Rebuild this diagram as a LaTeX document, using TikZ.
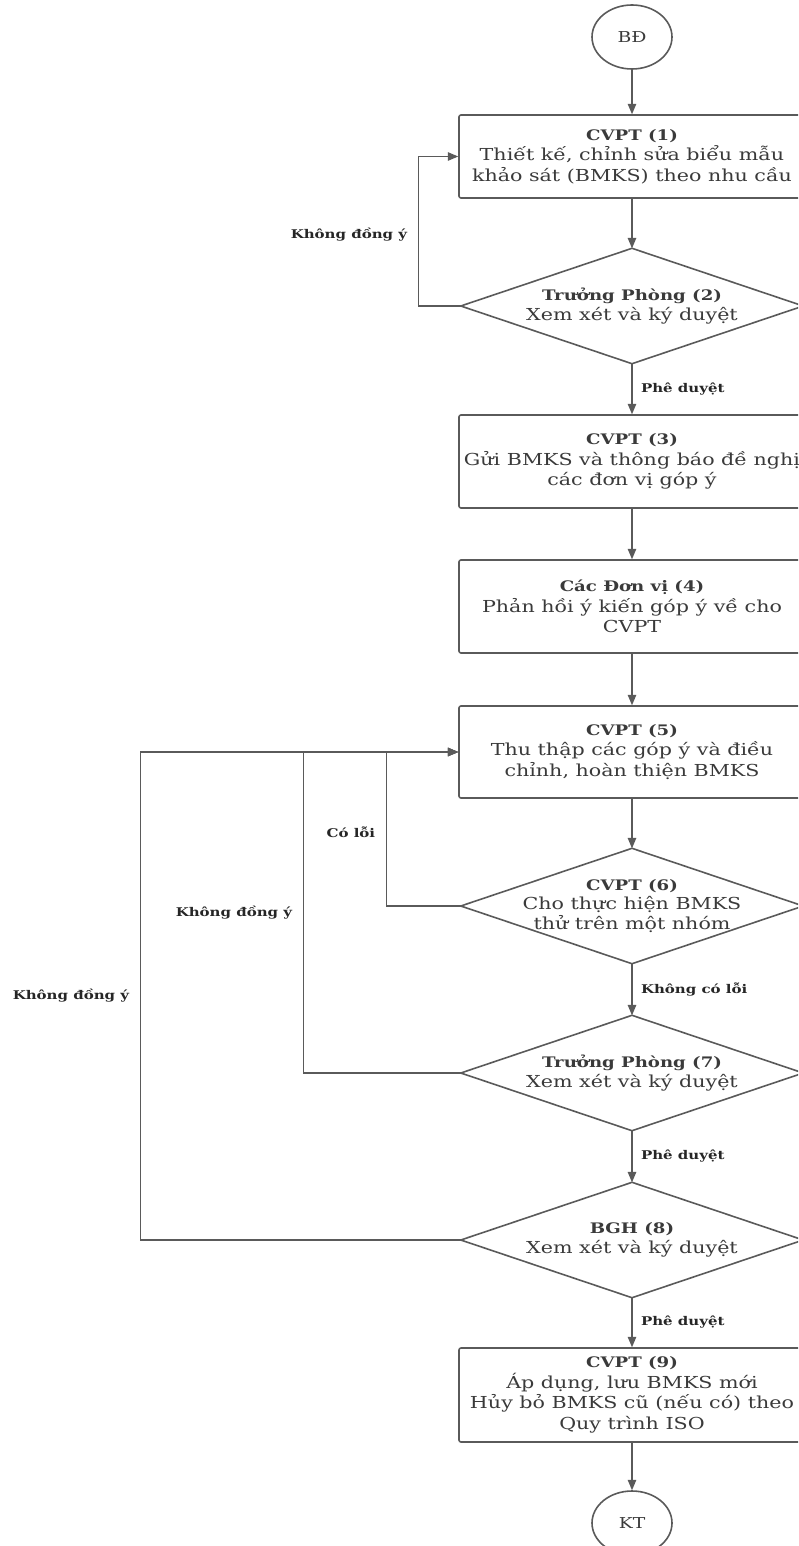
\documentclass[tikz,border=0pt]{standalone}
\usepackage{fontspec}
\setmainfont{DejaVu Serif}[FakeStretch=1.25]
\usetikzlibrary{arrows,shapes.geometric,positioning}
\definecolor{lineclr}{HTML}{5A5A5A}
\definecolor{txtclr}{HTML}{3A3A3A}
\newcommand{\stephead}[1]{{\fontsize{14.5}{20.5}\selectfont\bfseries #1}}
\tikzset{
	box/.style={draw=lineclr, line width=1.6pt, rounded corners=2pt, minimum width=346pt, align=center, text=txtclr, font=\fontsize{16.5}{20.5}\selectfont},
	decision/.style={minimum width=342pt, minimum height=115pt, inner sep=0pt, align=center, text=txtclr, font=\fontsize{16.5}{19.5}\selectfont},
	terminal/.style={ellipse, draw=lineclr, line width=1.6pt, minimum width=80pt, minimum height=64pt, text=txtclr, font=\fontsize{15}{17}\selectfont},
	flow/.style={->, draw=lineclr, line width=1.4pt},
	lbl/.style={text=black!85, font=\fontsize{12}{14}\selectfont\bfseries}
}

\begin{document}
\begin{tikzpicture}[x=1pt,y=-1pt,>=triangle 45]
	\useasboundingbox (0,0) rectangle (798,1546);
	\clip (0,0) rectangle (798,1546);
	
	\node[terminal] (bd) at (632,37) {BĐ};
	\node[box, minimum height=83pt] (cvpt1) at (632,156.5) {\stephead{CVPT (1)}\\Thiết kế, chỉnh sửa biểu mẫu\\khảo sát (BMKS) theo nhu cầu};
	\node[decision] (tp2) at (632,306) {\stephead{Trưởng Phòng (2)}\\Xem xét và ký duyệt};
	\node[box, minimum height=93pt] (cvpt3) at (632,461.5) {\stephead{CVPT (3)}\\Gửi BMKS và thông báo đề nghị\\các đơn vị góp ý};
	\node[box, minimum height=93pt] (dv4) at (632,606.5) {\stephead{Các Đơn vị (4)}\\Phản hồi ý kiến góp ý về cho\\CVPT};
	\node[box, minimum height=92pt] (cvpt5) at (632,752) {\stephead{CVPT (5)}\\Thu thập các góp ý và điều\\chỉnh, hoàn thiện BMKS};
	\node[decision] (cvpt6) at (632,906) {\stephead{CVPT (6)}\\Cho thực hiện BMKS\\thử trên một nhóm};
	\node[decision] (tp7) at (632,1073) {\stephead{Trưởng Phòng (7)}\\Xem xét và ký duyệt};
	\node[decision] (bgh8) at (632,1240) {\stephead{BGH (8)}\\Xem xét và ký duyệt};
	\node[box, minimum height=94pt] (cvpt9) at (632,1395) {\stephead{CVPT (9)}\\Áp dụng, lưu BMKS mới\\Hủy bỏ BMKS cũ (nếu có) theo\\Quy trình ISO};
	\node[terminal] (kt) at (632,1523) {KT};
	
	% diamonds
	\foreach \d in {tp2,cvpt6,tp7,bgh8}
		\draw[lineclr, line width=1.6pt, line join=miter] (\d.north) -- (\d.east) -- (\d.south) -- (\d.west) -- cycle;
	
	\draw[flow] (bd) -- (cvpt1);
	\draw[flow] (cvpt1) -- (tp2);
	\draw[flow] (tp2) -- node[lbl, right=5pt]{Phê duyệt} (cvpt3);
	\draw[flow] (cvpt3) -- (dv4);
	\draw[flow] (dv4) -- (cvpt5);
	\draw[flow] (cvpt5) -- (cvpt6);
	\draw[flow] (cvpt6) -- node[lbl, right=5pt]{Không có lỗi} (tp7);
	\draw[flow] (tp7) -- node[lbl, right=5pt]{Phê duyệt} (bgh8);
	\draw[flow] (bgh8) -- node[lbl, right=5pt]{Phê duyệt} (cvpt9);
	\draw[flow] (cvpt9) -- (kt);
	
	% loops back
	\draw[flow] (tp2.west) -| ([xshift=-40pt]cvpt1.west) node[lbl, left=7pt, pos=0.74]{Không đồng ý} -- (cvpt1.west);
	\draw[flow] (cvpt6.west) -| ([xshift=-72pt]cvpt5.west) node[lbl, left=7pt, pos=0.74]{Có lỗi} -- (cvpt5.west);
	\draw[flow] (tp7.west) -| ([xshift=-155pt]cvpt5.west) node[lbl, left=7pt, pos=0.75]{Không đồng ý} -- (cvpt5.west);
	\draw[flow] (bgh8.west) -| ([xshift=-318pt]cvpt5.west) node[lbl, left=7pt, pos=0.75]{Không đồng ý} -- (cvpt5.west);
\end{tikzpicture}
\end{document}
